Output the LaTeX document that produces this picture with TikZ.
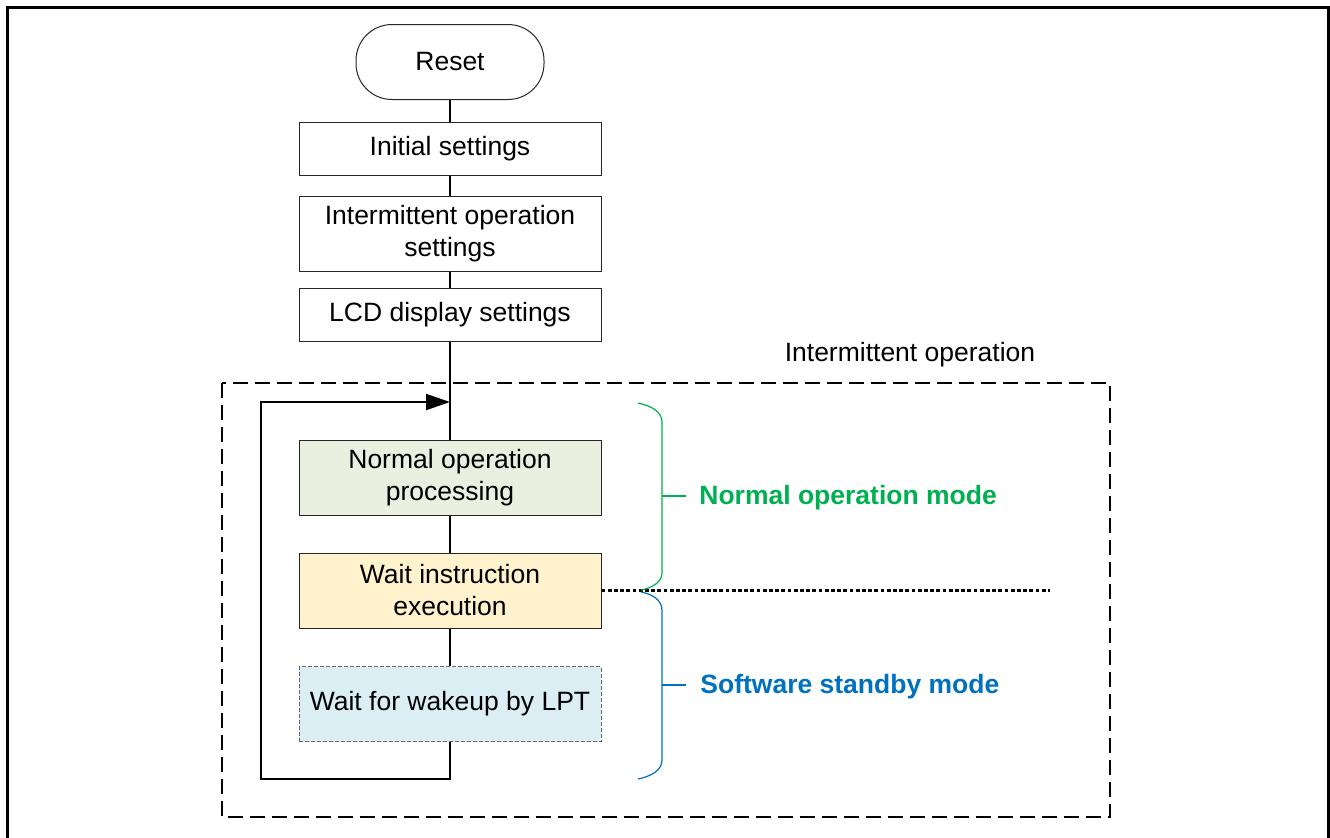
\documentclass[tikz,border=0pt]{standalone}
\usepackage{fontspec}
\setmainfont{Liberation Sans}
\usetikzlibrary{arrows.meta}
\definecolor{modegreen}{HTML}{00B050}
\definecolor{modeblue}{HTML}{0070C0}
\definecolor{fillgreen}{HTML}{EAF0DF}
\definecolor{fillyellow}{HTML}{FFF2CC}
\definecolor{fillblue}{HTML}{DAEEF3}

\begin{document}
\begin{tikzpicture}[
        x=0.5pt, y=-0.5pt,
        font=\fontsize{13.25pt}{16pt}\selectfont,
        flow/.style={line width=1pt},
        box/.style={draw=black!85, line width=0.5pt, minimum width=151pt, align=center, inner sep=2pt},
        terminal/.style={draw=black!85, line width=0.5pt, rounded corners=18pt, minimum width=94pt, minimum height=37.5pt},
        brace/.style={line width=0.6pt},
        modelabel/.style={anchor=west, inner sep=0pt, font=\fontsize{13.25pt}{16pt}\selectfont\bfseries},
    ]
        \useasboundingbox (0,0) rectangle (1330,837);

        % Draw the outer frame
        \draw[line width=1.5pt] (7,840) -- (7,7) -- (1328,7) -- (1328,840);

        % Draw the start-up steps
        \node[terminal] (reset) at (450,62) {Reset};
        \node[box, minimum height=26.5pt] (init) at (450,148.5) {Initial settings};
        \node[box, minimum height=37.5pt] (ioset) at (450,233.5) {Intermittent operation\\settings};
        \node[box, minimum height=26.5pt] (lcd) at (450,315) {LCD display settings};

        % Draw the intermittent operation area
        \draw[line width=1pt, dash pattern=on 7.5pt off 3.5pt] (222,383) rectangle (1110,817);
        \node (iolabel) at (910,355) {Intermittent operation};

        % Draw the loop steps
        \node[box, minimum height=37.5pt, fill=fillgreen] (normal) at (450,477.5) {Normal operation\\processing};
        \node[box, minimum height=37.5pt, fill=fillyellow] (wait) at (450,590.5) {Wait instruction\\execution};
        \node[box, minimum height=37.5pt, fill=fillblue, draw=black!60, dash pattern=on 2pt off 1pt] (wake) at (450,704) {Wait for wakeup by LPT};

        \coordinate (merge) at (450,402);
        \coordinate (loopbot) at (261,779);
        \coordinate (dotend) at (1050,590.5);

        % Connect the steps
        \foreach \source / \dest in {reset/init, init/ioset, ioset/lcd, normal/wait, wait/wake}
            \draw[flow] (\source) -- (\dest);
        \draw[flow] (lcd) -- (merge) -- (normal);
        \draw[flow, -{Triangle[length=12pt, width=8pt]}] (wake) |- (loopbot) |- (merge);

        % Draw the mode border
        \draw[line width=1.5pt, dash pattern=on 1.9pt off 1.2pt] (wait.east) -- (dotend);

        % Draw the mode braces
        \draw[brace, modegreen] (638,403) .. controls (652,406) and (662,412) .. (662,422) -- (662,573) .. controls (662,582) and (652,588) .. (641,590);
        \draw[brace, modegreen] (662,496) -- (686,496);
        \draw[brace, modeblue] (641,592) .. controls (652,594) and (662,600) .. (662,610) -- (662,760) .. controls (662,770) and (652,776) .. (638,779);
        \draw[brace, modeblue] (662,685) -- (686,685);

        \node[modelabel, text=modegreen] (normalmode) at (699,498) {Normal operation mode};
        \node[modelabel, text=modeblue] (standbymode) at (700,687) {Software standby mode};
    \end{tikzpicture}
\end{document}
